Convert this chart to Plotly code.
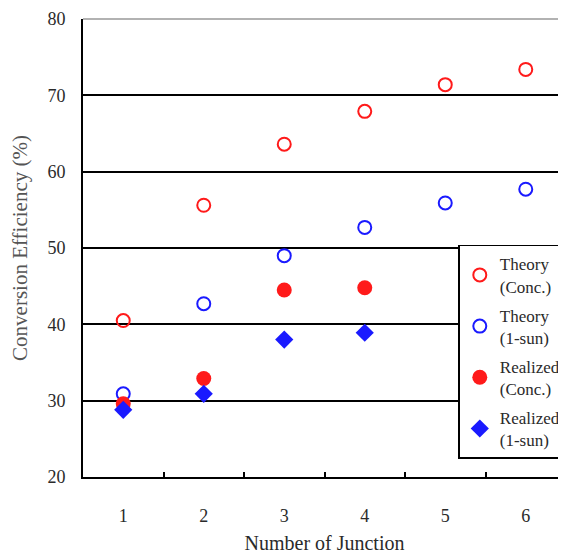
import plotly.graph_objects as go

junctions = ["1", "2", "3", "4", "5", "6"]
theory_conc = [40.5, 55.6, 63.6, 67.9, 71.4, 73.4]
theory_1sun = [30.9, 42.7, 49.0, 52.7, 55.9, 57.7]
realized_conc_x = ["1", "2", "3", "4"]
realized_conc = [29.6, 32.9, 44.5, 44.8]
realized_1sun_x = ["1", "2", "3", "4"]
realized_1sun = [28.8, 30.9, 38.0, 38.9]
y_range = [20, 80]

RED = "#ff1a1a"
BLUE = "#1a1aff"
FONT = "Liberation Serif"
TXT = "#2a2a2a"

fig = go.Figure()
fig.add_trace(go.Scatter(x=junctions, y=theory_conc, mode="markers",
                         name="Theory<br>(Conc.)", legendgroup="a",
                         marker=dict(symbol="circle-open", size=13, color=RED, line=dict(width=2, color=RED))))
fig.add_trace(go.Scatter(x=junctions, y=theory_1sun, mode="markers",
                         name="Theory<br>(1-sun)", legendgroup="b",
                         marker=dict(symbol="circle-open", size=13, color=BLUE, line=dict(width=2, color=BLUE))))
fig.add_trace(go.Scatter(x=realized_conc_x, y=realized_conc, mode="markers",
                         name="Realized<br>(Conc.)", legendgroup="c",
                         marker=dict(symbol="circle", size=15, color=RED)))
fig.add_trace(go.Scatter(x=realized_1sun_x, y=realized_1sun, mode="markers",
                         name="Realized<br>(1-sun)", legendgroup="d",
                         marker=dict(symbol="diamond", size=14, color=BLUE)))

# top frame line of the plot area (light gray, as in the reference)
fig.add_shape(type="line", xref="paper", yref="paper", x0=0, x1=1, y0=1, y1=1,
              line=dict(color="#999999", width=1.5), layer="below")

# page body has an 8px margin, so the figure is offset by (8, 8) on screen
fig.update_layout(
    width=566, height=556,
    margin=dict(l=75, r=8, t=11, b=87, autoexpand=False),
    plot_bgcolor="white", paper_bgcolor="white",
    font=dict(family=FONT, size=17, color=TXT),
    showlegend=True,
    legend=dict(x=0.777, y=0.507, xanchor="left", yanchor="top",
                bgcolor="white", bordercolor="black", borderwidth=1.5,
                font=dict(family=FONT, size=17, color=TXT),
                itemwidth=30, tracegroupgap=4),
    xaxis=dict(type="category", categoryorder="array", categoryarray=junctions,
               range=[-0.5, 5.5], tickson="boundaries", ticks="inside", ticklen=5,
               tickwidth=1.5, tickcolor="black", automargin=False,
               showline=True, linecolor="black", linewidth=2, showgrid=False,
               ticklabelstandoff=21,
               tickfont=dict(family=FONT, size=18, color=TXT),
               title=dict(text="Number of Junction", font=dict(family=FONT, size=20, color=TXT), standoff=11)),
    yaxis=dict(range=y_range, dtick=10, showline=True, linecolor="black", linewidth=2,
               showgrid=True, gridcolor="black", gridwidth=1.5, zeroline=False,
               ticks="", automargin=False, ticklabelstandoff=12,
               tickfont=dict(family=FONT, size=18, color=TXT),
               title=dict(text="Conversion Efficiency (%)", font=dict(family=FONT, size=21, color="#555555"), standoff=16)),
)
fig.write_html("out.html")
